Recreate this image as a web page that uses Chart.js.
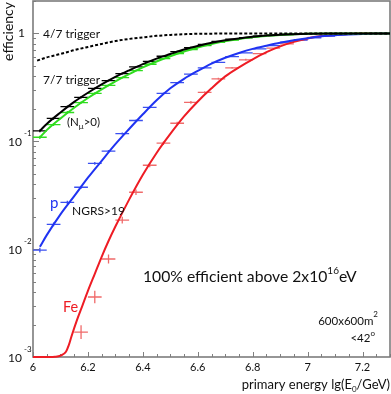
<!DOCTYPE html>
<html><head><meta charset="utf-8">
<script src="https://cdn.jsdelivr.net/npm/chart.js@4/dist/chart.umd.min.js"></script>
<style>html,body{margin:0;padding:0;background:#fff}canvas{display:block}</style>
</head><body>
<canvas id="c" width="391" height="394"></canvas>
<script>
const FONT = 'Lato, "Open Sans", sans-serif';

// ---- axes ----
const xMin = 6, xMax = 7.3, yMin = 0.001, yMax = 2;
const xTickValues = [6, 6.2, 6.4, 6.6, 6.8, 7, 7.2];
const xTickLabels = ['6', '6.2', '6.4', '6.6', '6.8', '7', '7.2'];
const yTickValues = [1, 0.1, 0.01, 0.001];
const yTickExponents = ['', '-1', '-2', '-3'];

// ---- 4/7 trigger (dashed) ----
const trig47X = [6.015, 6.05, 6.1, 6.15, 6.2, 6.25, 6.3, 6.35, 6.4, 6.45, 6.5, 6.55, 6.6, 6.7, 6.8, 7.0, 7.3];
const trig47Y = [0.56, 0.60, 0.645, 0.70, 0.75, 0.80, 0.85, 0.89, 0.92, 0.95, 0.97, 0.985, 0.993, 0.998, 1.0, 1.0, 1.0];

// ---- 7/7 trigger (black) ----
const trig77X = [6.025, 6.05, 6.1, 6.15, 6.2, 6.25, 6.3, 6.35, 6.4, 6.45, 6.5, 6.55, 6.6, 6.65, 6.7, 6.75, 6.8, 6.85, 6.9, 6.95, 7.0, 7.1, 7.2, 7.3];
const trig77Y = [0.125, 0.145, 0.185, 0.232, 0.282, 0.337, 0.395, 0.455, 0.52, 0.585, 0.645, 0.71, 0.765, 0.82, 0.865, 0.90, 0.93, 0.955, 0.972, 0.985, 0.993, 0.998, 1.0, 1.0];
const trig77MarkX = [6.025, 6.075, 6.125, 6.175, 6.225, 6.275, 6.325, 6.375, 6.425, 6.475, 6.525, 6.575, 6.625, 6.675, 6.725, 6.775, 6.825, 6.875, 6.925, 6.975];
const trig77MarkY = [0.125, 0.163, 0.21, 0.255, 0.31, 0.365, 0.425, 0.49, 0.55, 0.615, 0.68, 0.74, 0.79, 0.845, 0.885, 0.915, 0.945, 0.965, 0.98, 0.99];
const trig77MarkErr = [0.03, 0.03, 0.025, 0.025, 0.02, 0.02, 0.02, 0.02, 0.015, 0.015, 0.015, 0.015, 0.01, 0.01, 0.01, 0.01, 0.01, 0.01, 0.01, 0.01];

// ---- N_mu > 0 (green) ----
const nmuX = [6.025, 6.05, 6.1, 6.15, 6.2, 6.25, 6.3, 6.35, 6.4, 6.45, 6.5, 6.55, 6.6, 6.65, 6.7, 6.75, 6.8, 6.85, 6.9, 6.95, 7.0, 7.1, 7.2, 7.3];
const nmuY = [0.109, 0.127, 0.163, 0.205, 0.252, 0.303, 0.36, 0.42, 0.485, 0.55, 0.615, 0.68, 0.74, 0.80, 0.85, 0.89, 0.925, 0.95, 0.97, 0.984, 0.992, 0.998, 1.0, 1.0];
const nmuMarkX = [6.025, 6.075, 6.125, 6.175, 6.225, 6.275, 6.325, 6.375, 6.425, 6.475, 6.525, 6.575, 6.625, 6.675, 6.725, 6.775, 6.825, 6.875, 6.925, 6.975];
const nmuMarkY = [0.109, 0.143, 0.185, 0.228, 0.278, 0.33, 0.39, 0.452, 0.518, 0.585, 0.65, 0.71, 0.77, 0.825, 0.87, 0.91, 0.94, 0.96, 0.978, 0.99];
const nmuMarkErr = [0.035, 0.03, 0.03, 0.025, 0.025, 0.02, 0.02, 0.02, 0.015, 0.015, 0.015, 0.015, 0.01, 0.01, 0.01, 0.01, 0.01, 0.01, 0.01, 0.01];

// ---- protons, NGRS>19 (blue) ----
const protX = [6.025, 6.05, 6.1, 6.15, 6.2, 6.25, 6.3, 6.35, 6.4, 6.45, 6.5, 6.55, 6.6, 6.65, 6.7, 6.75, 6.8, 6.85, 6.9, 6.95, 7.0, 7.05, 7.1, 7.15, 7.2, 7.25, 7.3];
const protY = [0.0105, 0.0135, 0.021, 0.031, 0.046, 0.066, 0.094, 0.13, 0.178, 0.24, 0.31, 0.38, 0.45, 0.525, 0.595, 0.66, 0.72, 0.77, 0.82, 0.865, 0.905, 0.94, 0.965, 0.98, 0.99, 0.997, 1.0];
const protMarkX = [6.025, 6.075, 6.125, 6.175, 6.225, 6.275, 6.325, 6.375, 6.425, 6.475, 6.525, 6.575, 6.625, 6.675, 6.725, 6.775, 6.825, 6.875, 6.925, 6.975, 7.025, 7.075];
const protMarkY = [0.0098, 0.017, 0.0272, 0.0375, 0.0625, 0.081, 0.118, 0.156, 0.206, 0.278, 0.35, 0.42, 0.48, 0.54, 0.61, 0.66, 0.72, 0.77, 0.83, 0.87, 0.91, 0.945];
const protMarkErr = [0.05, 0.04, 0.035, 0.03, 0.03, 0.025, 0.025, 0.02, 0.02, 0.02, 0.015, 0.015, 0.015, 0.01, 0.01, 0.01, 0.01, 0.01, 0.01, 0.01, 0.01, 0.01];

// ---- iron (red) ----
const ironX = [6.0, 6.06, 6.08, 6.1, 6.12, 6.13, 6.14, 6.16, 6.18, 6.2, 6.225, 6.25, 6.275, 6.3, 6.35, 6.4, 6.45, 6.5, 6.55, 6.6, 6.65, 6.7, 6.75, 6.8, 6.85, 6.9, 6.95, 7.0, 7.05, 7.1, 7.15, 7.2, 7.3];
const ironY = [0.001, 0.001, 0.001005, 0.00103, 0.00112, 0.00128, 0.00155, 0.0022, 0.0030, 0.0041, 0.0059, 0.0085, 0.0119, 0.0162, 0.0288, 0.049, 0.078, 0.117, 0.17, 0.234, 0.31, 0.40, 0.485, 0.575, 0.67, 0.76, 0.835, 0.90, 0.946, 0.975, 0.99, 0.998, 1.0];
const ironMarkX = [6.175, 6.225, 6.275, 6.325, 6.375, 6.425, 6.475, 6.525, 6.575, 6.625, 6.675, 6.725, 6.775, 6.825, 6.875, 6.925, 6.975, 7.025, 7.075, 7.125];
const ironMarkY = [0.0017, 0.0036, 0.0081, 0.0186, 0.0337, 0.060, 0.096, 0.147, 0.23, 0.284, 0.38, 0.48, 0.57, 0.65, 0.73, 0.80, 0.875, 0.92, 0.955, 0.98];
const ironMarkErr = [0.16, 0.14, 0.10, 0.075, 0.06, 0.045, 0.04, 0.035, 0.03, 0.025, 0.02, 0.02, 0.02, 0.015, 0.015, 0.01, 0.01, 0.01, 0.01, 0.01];

const binHalfWidth = 0.025;

function pts(xs, ys) { return xs.map((x, i) => ({ x: x, y: ys[i] })); }

const C_BLUE = '#1f33f2', C_RED = '#ee1c24', C_GREEN = '#2fdc1e', C_BLACK = '#000000';

function curve(label, xs, ys, color, extra) {
  return Object.assign({
    label: label, data: pts(xs, ys), borderColor: color, backgroundColor: color,
    borderWidth: 2, pointRadius: 0, showLine: true, tension: 0.4, cubicInterpolationMode: 'monotone', fill: false
  }, extra || {});
}
function markers(label, xs, ys, errs, color, order) {
  return {
    label: label, data: pts(xs, ys), errs: errs, isMarker: true,
    borderColor: color, backgroundColor: color, showLine: false,
    pointStyle: 'line', pointRadius: 0, pointBorderWidth: 1.3, order: order
  };
}

const errorBars = {
  id: 'errorBars',
  afterDatasetDraw(chart, args) {
    const ds = chart.data.datasets[args.index];
    if (!ds.isMarker) return;
    const { ctx, scales: { x, y } } = chart;
    ctx.save();
    ctx.strokeStyle = ds.borderColor;
    ctx.lineWidth = 1.3;
    ds.data.forEach((p, i) => {
      const px = x.getPixelForValue(p.x);
      const py = y.getPixelForValue(p.y);
      const x0 = x.getPixelForValue(p.x - binHalfWidth);
      const x1 = x.getPixelForValue(p.x + binHalfWidth);
      const e = ds.errs[i];
      const y0 = y.getPixelForValue(p.y * (1 + e));
      const y1 = y.getPixelForValue(p.y / (1 + e));
      ctx.beginPath();
      ctx.moveTo(Math.max(x0, chart.chartArea.left), py); ctx.lineTo(x1, py);
      ctx.moveTo(px, y0); ctx.lineTo(px, y1);
      ctx.stroke();
    });
    ctx.restore();
  }
};

function rich(ctx, parts, x, y, align) {
  let w = 0;
  parts.forEach(p => { ctx.font = (p.size) + 'px ' + FONT; p.w = ctx.measureText(p.t).width; w += p.w; });
  let cx = align === 'right' ? x - w : (align === 'center' ? x - w / 2 : x);
  ctx.textAlign = 'left';
  parts.forEach(p => {
    ctx.font = (p.size) + 'px ' + FONT;
    ctx.fillStyle = p.color || '#111';
    ctx.fillText(p.t, cx, y + (p.dy || 0));
    cx += p.w;
  });
}

const deco = {
  id: 'deco',
  beforeDatasetsDraw(chart) {
    const { ctx, chartArea: a, scales: { x, y } } = chart;
    ctx.save();
    ctx.strokeStyle = '#808080';
    ctx.lineWidth = 1;
    for (let k = 0; k <= 26; k++) {
      const v = xMin + k * 0.05;
      const px = Math.round(x.getPixelForValue(v)) + 0.5;
      const major = k % 4 === 0;
      ctx.beginPath(); ctx.moveTo(px, a.bottom); ctx.lineTo(px, a.bottom - (major ? 5 : 3)); ctx.stroke();
    }
    for (let e = -3; e <= 0; e++) {
      for (let m = 1; m <= 9; m++) {
        const v = m * Math.pow(10, e);
        if (v > yMax) break;
        const py = Math.round(y.getPixelForValue(v)) + 0.5;
        ctx.beginPath(); ctx.moveTo(a.left, py); ctx.lineTo(a.left + (m === 1 ? 6 : 3), py); ctx.stroke();
      }
    }
    ctx.lineWidth = 1.6;
    ctx.strokeStyle = '#7c7c7c';
    ctx.strokeRect(a.left, a.top, a.right - a.left, a.bottom - a.top);
    ctx.restore();
  },
  afterDraw(chart) {
    const { ctx, chartArea: a, scales: { x, y } } = chart;
    ctx.save();
    ctx.textBaseline = 'middle';
    ctx.font = '11px ' + FONT; ctx.fillStyle = '#111'; ctx.textAlign = 'center';
    xTickValues.forEach((v, i) => ctx.fillText(xTickLabels[i], x.getPixelForValue(v), a.bottom + 10));
    yTickValues.forEach((v, i) => {
      const py = y.getPixelForValue(v);
      ctx.fillStyle = '#111';
      if (!yTickExponents[i]) {
        ctx.font = '12px ' + FONT; ctx.textAlign = 'right';
        ctx.fillText('1', 25, py);
      } else {
        ctx.font = '12px ' + FONT; ctx.textAlign = 'right';
        ctx.fillText('10', 22, py + 1);
        ctx.font = '8px ' + FONT; ctx.textAlign = 'left';
        ctx.fillText(yTickExponents[i], 24, py - 8);
      }
    });
    ctx.save();
    ctx.translate(8, 2); ctx.rotate(-Math.PI / 2);
    ctx.font = '14px ' + FONT; ctx.textAlign = 'right'; ctx.fillStyle = '#111';
    ctx.fillText('efficiency', 0, 0);
    ctx.restore();
    rich(ctx, [{ t: 'primary energy lg(E', size: 13 }, { t: '0', size: 8, dy: 4 }, { t: '/GeV)', size: 13 }], 390, 385, 'right');
    rich(ctx, [{ t: '4/7 trigger', size: 12 }], 43, 34, 'left');
    rich(ctx, [{ t: '7/7 trigger', size: 12 }], 43, 80, 'left');
    rich(ctx, [{ t: '(N', size: 11.5 }, { t: 'μ', size: 8, dy: 4 }, { t: '>0)', size: 11.5 }], 67, 122, 'left');
    rich(ctx, [{ t: 'p', size: 15, color: C_BLUE }], 50, 203, 'left');
    rich(ctx, [{ t: 'NGRS>19', size: 12 }], 72, 211, 'left');
    rich(ctx, [{ t: 'Fe', size: 14.5, color: C_RED }], 63, 307, 'left');
    rich(ctx, [{ t: '100% efficient above 2x10', size: 15.7 }, { t: '16', size: 10, dy: -6 }, { t: 'eV', size: 15.7 }], 143, 277, 'left');
    rich(ctx, [{ t: '600x600m', size: 11.5 }, { t: '2', size: 8, dy: -7 }], 378, 321, 'right');
    rich(ctx, [{ t: '<42', size: 11.5 }, { t: 'o', size: 8, dy: -5 }], 375, 338, 'right');
    ctx.restore();
  }
};

const chart = new Chart(document.getElementById('c'), {
  type: 'scatter',
  data: {
    datasets: [
      curve('4/7 trigger', trig47X, trig47Y, C_BLACK, { borderDash: [3, 2], order: 1 }),
      curve('7/7 trigger', trig77X, trig77Y, C_BLACK, { order: 2 }),
      curve('N_mu>0', nmuX, nmuY, C_GREEN, { order: 3 }),
      curve('p NGRS>19', protX, protY, C_BLUE, { order: 4 }),
      curve('Fe NGRS>19', ironX, ironY, C_RED, { order: 5, clip: false }),
      markers('7/7 trigger data', trig77MarkX, trig77MarkY, trig77MarkErr, C_BLACK, 6),
      markers('N_mu>0 data', nmuMarkX, nmuMarkY, nmuMarkErr, C_GREEN, 7),
      markers('p data', protMarkX, protMarkY, protMarkErr, '#3a4ff0', 8),
      markers('Fe data', ironMarkX, ironMarkY, ironMarkErr, '#f06a6a', 9)
    ]
  },
  options: {
    responsive: false, animation: false, devicePixelRatio: 1,
    layout: { padding: { top: 1, right: 1, left: 0, bottom: 0 } },
    plugins: { legend: { display: false }, tooltip: { enabled: false } },
    scales: {
      x: {
        type: 'linear', min: xMin, max: xMax,
        grid: { display: false }, border: { display: false }, ticks: { display: false },
        afterFit: s => { s.height = 37; }
      },
      y: {
        type: 'logarithmic', min: yMin, max: yMax,
        grid: { display: false }, border: { display: false }, ticks: { display: false },
        afterFit: s => { s.width = 33; }
      }
    }
  },
  plugins: [errorBars, deco]
});
</script>
</body></html>
